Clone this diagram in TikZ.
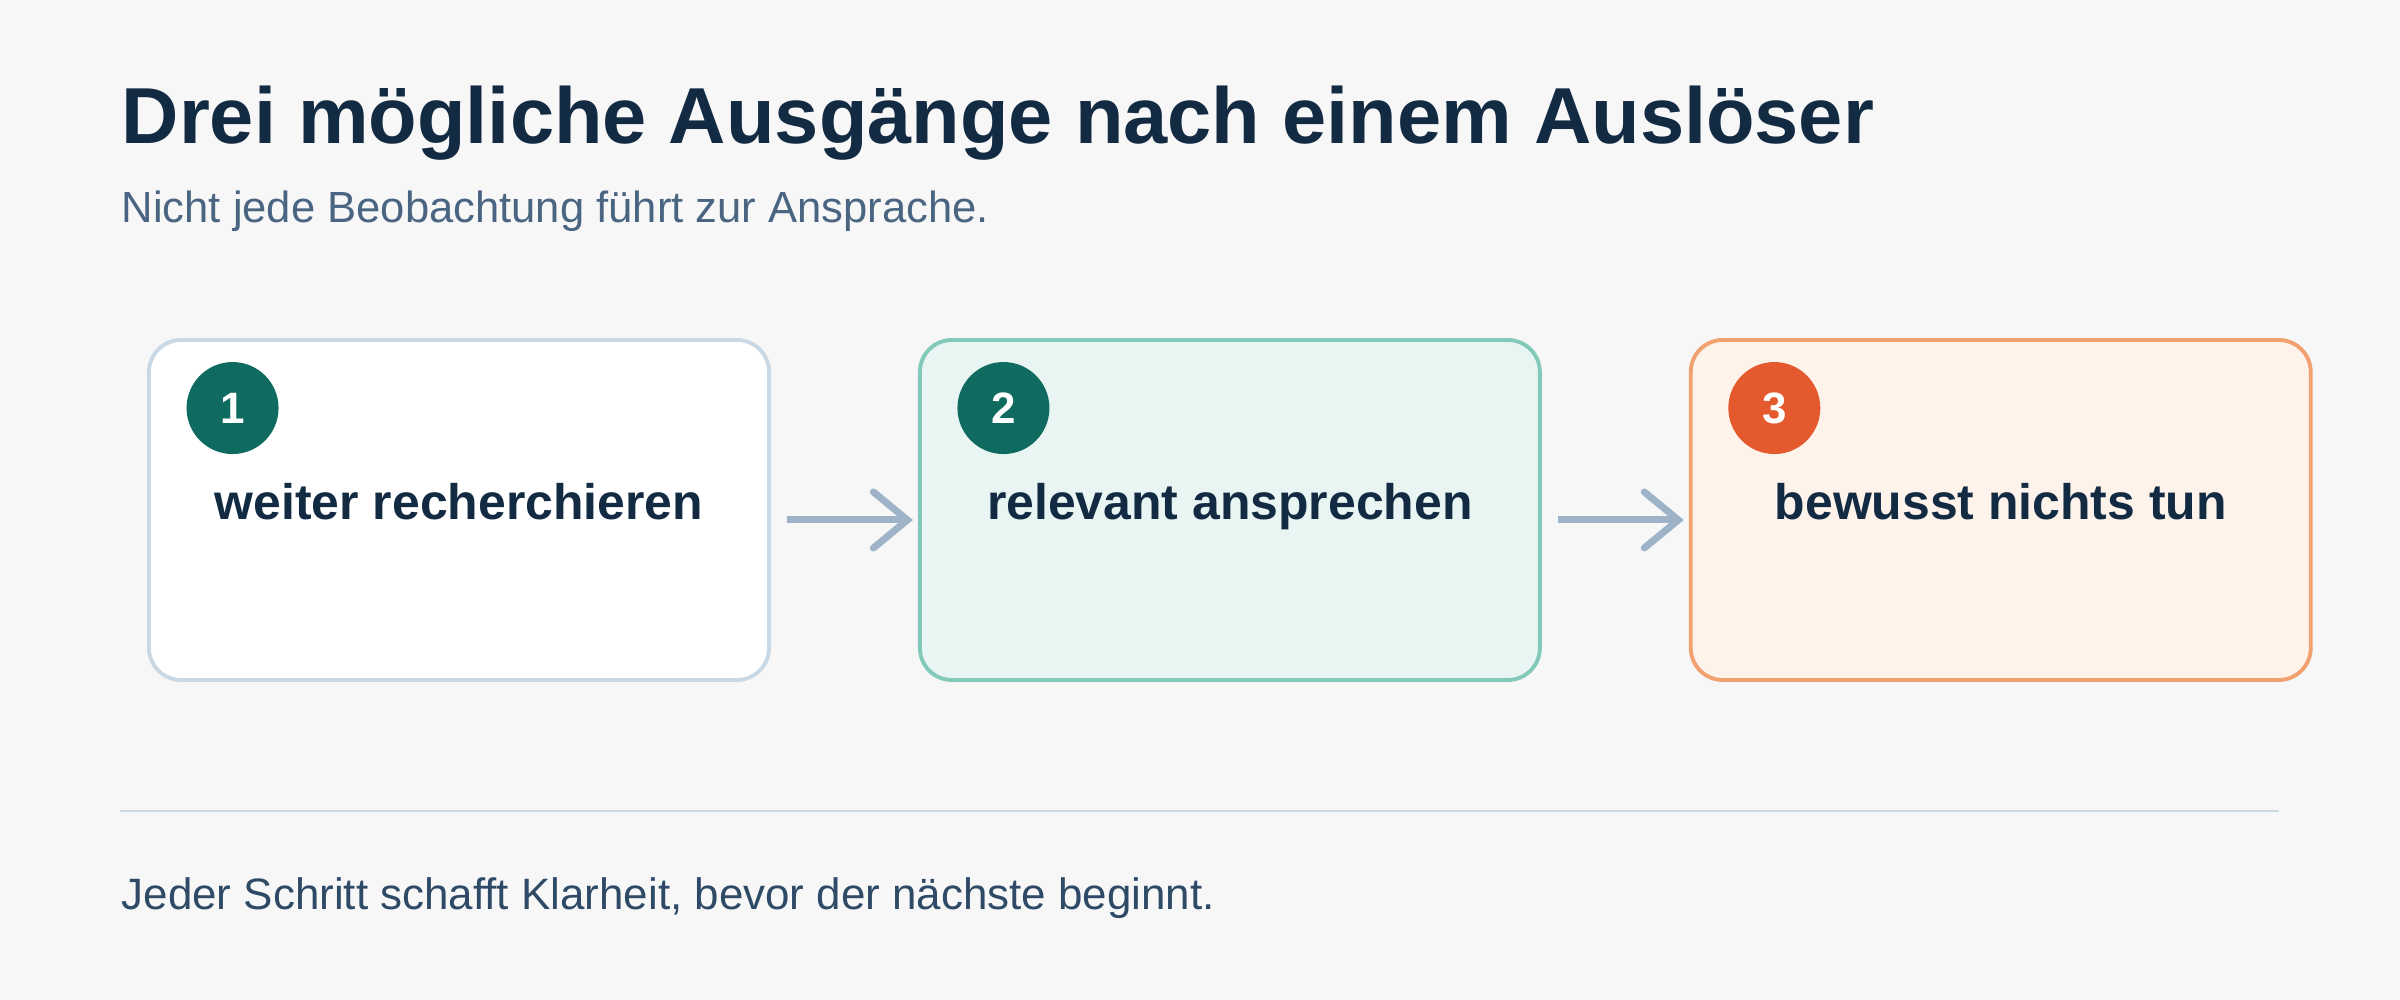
\documentclass[tikz,border=0pt]{standalone}
\usepackage{fontspec}
\setmainfont{Liberation Sans}
\usetikzlibrary{arrows.meta,positioning}

\definecolor{paper}{HTML}{F7F7F7}
\definecolor{ink}{HTML}{132A43}
\definecolor{subink}{HTML}{4A6582}
\definecolor{footink}{HTML}{2E4A66}
\definecolor{greyline}{HTML}{C9D8E5}
\definecolor{mintfill}{HTML}{E8F5F2}
\definecolor{mintline}{HTML}{82C9B9}
\definecolor{peachfill}{HTML}{FEF3EB}
\definecolor{peachline}{HTML}{F1A070}
\definecolor{tealdot}{HTML}{0F6B5F}
\definecolor{orangedot}{HTML}{E5592E}
\definecolor{flowgrey}{HTML}{9FB3C8}
\definecolor{rule}{HTML}{CBD9E2}

\begin{document}
\begin{tikzpicture}[
  card/.style={draw, rounded corners=3.2mm, line width=1.1pt, minimum width=6.2cm, minimum height=3.4cm, inner sep=0pt},
  badge/.style={circle, minimum size=9.2mm, inner sep=0pt, text=white, font=\fontsize{12.5}{14}\selectfont\bfseries},
  cardtext/.style={anchor=base, text=ink, font=\fontsize{14.2}{17}\selectfont\bfseries},
  flow/.style={draw=flowgrey, line width=2pt, -{Straight Barb[length=3.4mm,width=5.6mm,line cap=round]}}
]
\fill[paper] (0,0) rectangle (24,10);
\useasboundingbox (0,0) rectangle (24,10);

% heading
\node[anchor=base west, inner sep=0pt, text=ink, font=\fontsize{22.6}{27}\selectfont\bfseries] (title) at (1.21,8.56) {Drei mögliche Ausgänge nach einem Auslöser};
\node[anchor=base west, inner sep=0pt, text=subink, font=\fontsize{12.4}{15}\selectfont] (subtitle) at (1.21,7.77) {Nicht jede Beobachtung führt zur Ansprache.};

% the three outcomes
\node[card, fill=white, draw=greyline] (b1) at (4.59,4.90) {};
\node[card, fill=mintfill, draw=mintline, right=1.47cm of b1] (b2) {};
\node[card, fill=peachfill, draw=peachline, right=1.47cm of b2] (b3) {};

\node[badge, fill=tealdot] (n1) at ([shift={(0.855,-0.70)}]b1.north west) {1};
\node[badge, fill=tealdot] (n2) at ([shift={(0.855,-0.70)}]b2.north west) {2};
\node[badge, fill=orangedot] (n3) at ([shift={(0.855,-0.70)}]b3.north west) {3};

\node[cardtext] (t1) at ([yshift=-1mm]b1.center) {weiter recherchieren};
\node[cardtext] (t2) at ([yshift=-1mm]b2.center) {relevant ansprechen};
\node[cardtext] (t3) at ([yshift=-1mm]b3.center) {bewusst nichts tun};

\draw[flow] ([shift={(0.16,-0.1)}]b1.east) -- ([shift={(-0.05,-0.1)}]b2.west);
\draw[flow] ([shift={(0.16,-0.1)}]b2.east) -- ([shift={(-0.05,-0.1)}]b3.west);

% footer
\coordinate (r1) at (1.20,1.89);
\coordinate (r2) at (22.79,1.89);
\draw[rule, line width=0.8pt] (r1) -- (r2);
\node[anchor=base west, inner sep=0pt, text=footink, font=\fontsize{12.5}{15}\selectfont] (footer) at (1.21,0.90) {Jeder Schritt schafft Klarheit, bevor der nächste beginnt.};

\end{tikzpicture}
\end{document}
